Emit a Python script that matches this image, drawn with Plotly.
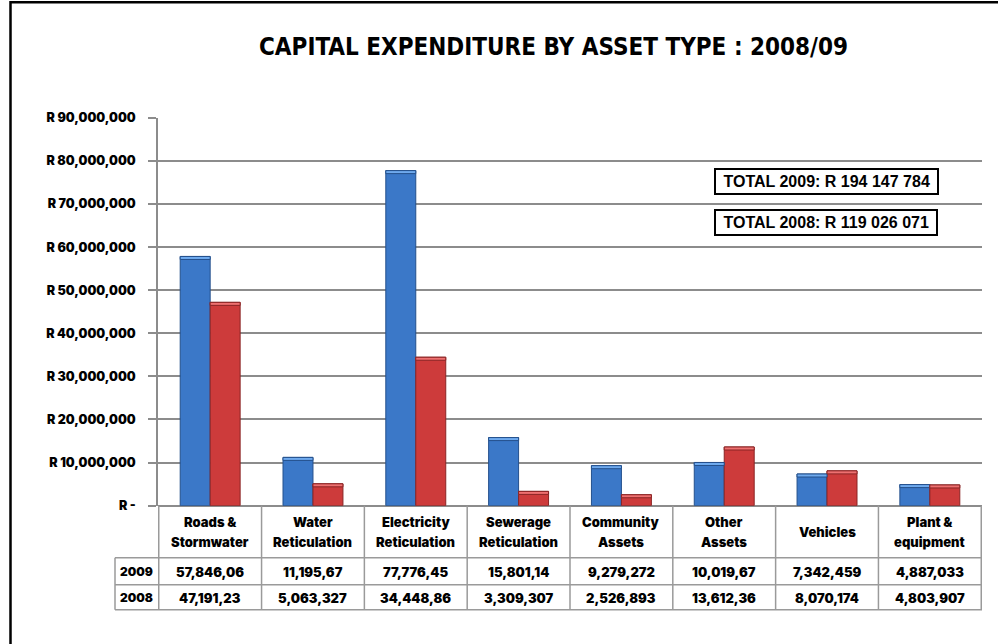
import plotly.graph_objects as go

# ---------------- data ----------------
categories = ["Roads & Stormwater", "Water Reticulation", "Electricity Reticulation",
              "Sewerage Reticulation", "Community Assets", "Other Assets",
              "Vehicles", "Plant & equipment"]
series_names = ["2009", "2008"]
values_2009 = [57846060, 11195670, 77776450, 15801140, 9279272, 10019670, 7342459, 4887033]
values_2008 = [47191230, 5063327, 34448860, 3309307, 2526893, 13612360, 8070174, 4803907]
table_2009 = ["57,846,06", "11,195,67", "77,776,45", "15,801,14",
              "9,279,272", "10,019,67", "7,342,459", "4,887,033"]
table_2008 = ["47,191,23", "5,063,327", "34,448,86", "3,309,307",
              "2,526,893", "13,612,36", "8,070,174", "4,803,907"]
tick_vals = [0, 10000000, 20000000, 30000000, 40000000, 50000000,
             60000000, 70000000, 80000000, 90000000]
tick_labels = ["R -", "R 10,000,000", "R 20,000,000", "R 30,000,000", "R 40,000,000",
               "R 50,000,000", "R 60,000,000", "R 70,000,000", "R 80,000,000", "R 90,000,000"]
totals = ["TOTAL 2009: R 194 147 784", "TOTAL 2008: R 119 026 071"]
title_text = "CAPITAL EXPENDITURE BY ASSET TYPE : 2008/09"

# ---------------- layout helpers ----------------
W, H = 998, 644
SY = 0.976  # observed vertical squeeze of the rendered page, compensated here
def px_x(x):
    return x / W
def px_y(y):
    yc = H / 2 + (y - H / 2) / SY
    return (H - yc) / H

X_LEFT, X_RIGHT = 158, 982
Y_ZERO, Y_TOP = 505, 117.6
GRID = "#8c8c8c"
TABLE_LINE = "#9a9a9a"
HEAVY_FONT = "Inter, DejaVu Sans"

colors = ["#3B78C8", "#CD3B3B"]
edge = ["#24508C", "#8A2424"]
hilite = ["#6FAAEE", "#EE7070"]
cap = 700000

fig = go.Figure()
for k, (name, vals) in enumerate(zip(series_names, [values_2009, values_2008])):
    fig.add_trace(go.Bar(
        x=categories, y=vals, name=name, offsetgroup=name,
        marker=dict(color=colors[k], line=dict(color=edge[k], width=1)),
        showlegend=False))
for k, (name, vals) in enumerate(zip(series_names, [values_2009, values_2008])):
    fig.add_trace(go.Bar(
        x=categories, y=[cap] * len(vals), base=[v - cap for v in vals],
        name=name, offsetgroup=name, hoverinfo="skip",
        marker=dict(color=hilite[k], line=dict(color=edge[k], width=1)),
        showlegend=False))

shapes = []
# outer frame
shapes.append(dict(type="rect", xref="paper", yref="paper",
                   x0=px_x(10.5), x1=1.05, y0=-0.05, y1=px_y(2),
                   line=dict(color="black", width=2.5), layer="below"))
# table vertical lines
n = len(categories)
for i in range(n + 1):
    shapes.append(dict(type="line", xref="x", yref="paper",
                       x0=i - 0.5, x1=i - 0.5, y0=px_y(609), y1=px_y(Y_ZERO),
                       line=dict(color=TABLE_LINE, width=1.5)))
# table horizontal lines
for yy in [557, 584, 609]:
    shapes.append(dict(type="line", xref="paper", yref="paper",
                       x0=px_x(115), x1=px_x(X_RIGHT), y0=px_y(yy), y1=px_y(yy),
                       line=dict(color=TABLE_LINE, width=1.5)))
shapes.append(dict(type="line", xref="paper", yref="paper",
                   x0=px_x(115), x1=px_x(115), y0=px_y(609), y1=px_y(557),
                   line=dict(color=TABLE_LINE, width=1.5)))

annotations = []
tfont = dict(family=HEAVY_FONT, size=13, color="black", weight=900)
for i, name in enumerate(categories):
    parts = name.rsplit(" ", 1) if " " in name else [name]
    if len(parts) == 2:
        ys = [521, 541.5]
    else:
        ys = [531]
    for part, yy in zip(parts, ys):
        annotations.append(dict(x=name, xref="x", y=px_y(yy), yref="paper",
                                text=part, showarrow=False, font=tfont,
                                xanchor="center", yanchor="middle"))
    for row, yy in zip([table_2009, table_2008], [571, 597]):
        annotations.append(dict(x=name, xref="x", y=px_y(yy), yref="paper",
                                text=row[i], showarrow=False, font=tfont,
                                xanchor="center", yanchor="middle"))
for sname, yy in zip(series_names, [571, 597]):
    annotations.append(dict(x=px_x(136.5), xref="paper", y=px_y(yy), yref="paper",
                            text=sname, showarrow=False,
                            font=dict(family=HEAVY_FONT, size=12, color="black", weight=900),
                            xanchor="center", yanchor="middle"))
# totals boxes
for txt, (cx, cy) in zip(totals, [(826, 181.5), (825.5, 222)]):
    annotations.append(dict(x=px_x(cx), xref="paper", y=px_y(cy), yref="paper",
                            text="\u00a0" + txt + "\u00a0", showarrow=False,
                            font=dict(family="Liberation Sans", size=16, color="black", weight="bold"),
                            bordercolor="black", borderwidth=2, borderpad=3,
                            bgcolor="white", xanchor="center", yanchor="middle"))
# title
annotations.append(dict(x=px_x(553), xref="paper", y=px_y(47), yref="paper",
                        text=title_text, showarrow=False,
                        font=dict(family="Liberation Sans Narrow, DejaVu Sans Condensed", size=24,
                                  color="black", weight="bold"),
                        xanchor="center", yanchor="middle"))

fig.update_layout(
    width=W, height=H, margin=dict(l=0, r=0, t=0, b=0),
    paper_bgcolor="white", plot_bgcolor="white",
    barmode="group", bargap=0.417, bargroupgap=0,
    shapes=shapes, annotations=annotations,
    xaxis=dict(domain=[px_x(X_LEFT), px_x(X_RIGHT)], showticklabels=False,
               showgrid=False, showline=False, ticks="", zeroline=False),
    yaxis=dict(domain=[px_y(Y_ZERO), px_y(Y_TOP)], range=[0, 90000000],
               tickvals=tick_vals, ticktext=tick_labels,
               showgrid=True, gridcolor=GRID, gridwidth=1.5,
               zeroline=True, zerolinecolor=GRID, zerolinewidth=1.5,
               showline=True, linecolor=GRID, linewidth=1.5,
               ticks="outside", ticklen=8, tickcolor=GRID, tickwidth=1.5,
               ticklabelstandoff=10,
               tickfont=dict(family=HEAVY_FONT, size=12.5, color="black", weight=900)),
)

fig.write_html("out.html")
